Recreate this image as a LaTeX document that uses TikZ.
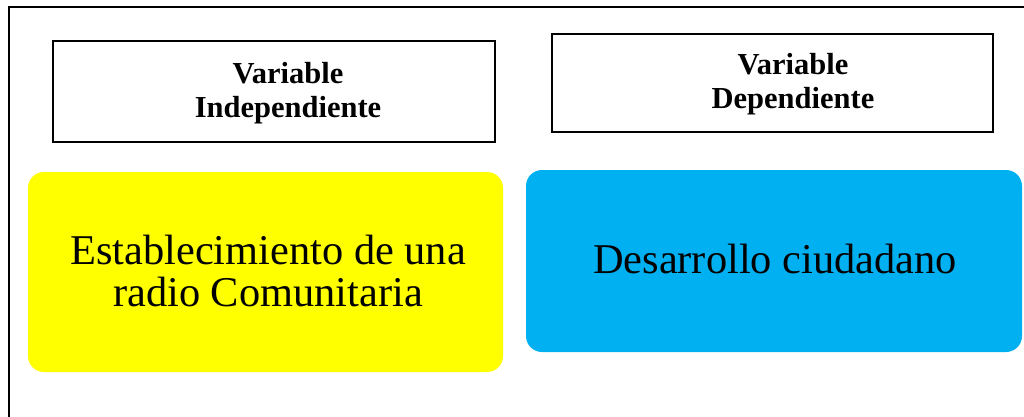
\documentclass[tikz,border=0pt]{standalone}
\usepackage{fontspec}
\setmainfont{Liberation Serif}
\begin{document}
\begin{tikzpicture}[x=1pt,y=1pt,
  framebox/.style={draw=black,line width=2pt,minimum width=#1,inner sep=0pt},
  varlabel/.style={font=\bfseries\fontsize{30.5}{34}\selectfont,align=center,inner sep=0pt},
  colbox/.style={rounded corners=16pt,inner sep=0pt},
  bigtext/.style={font=\fontsize{42.4}{42.4}\selectfont,align=center,inner sep=0pt}]
\useasboundingbox (0,0) rectangle (1024,416);
\draw[line width=2pt] (9,-5) -- (9,409) -- (1030,409);
\node[framebox=442pt,minimum height=101pt] (b1) at (274,324.5) {};
\node[varlabel] (t1) at (288,322.5) {Variable\\Independiente};
\node[framebox=441pt,minimum height=98pt] (b2) at (772.5,333) {};
\node[varlabel] (t2) at (793,331.5) {Variable\\Dependiente};
\node[colbox,fill={rgb,255:red,255;green,255;blue,0},minimum width=475pt,minimum height=200pt] (y) at (265.5,144) {};
\node[bigtext] (yt) at (268,145) {Establecimiento de una\\radio Comunitaria};
\node[colbox,fill={rgb,255:red,0;green,176;blue,240},minimum width=496pt,minimum height=182pt] (bl) at (774,155) {};
\node[bigtext] (blt) at (775,157) {Desarrollo ciudadano};
\end{tikzpicture}
\end{document}
